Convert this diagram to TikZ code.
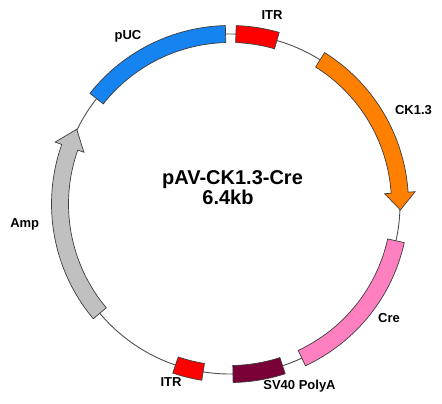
\documentclass[tikz,border=0pt]{standalone}
\usepackage{fontspec}
\setmainfont{Liberation Sans}
\definecolor{pucblue}{RGB}{21,132,240}
\definecolor{itrred}{RGB}{255,0,0}
\definecolor{ckorange}{RGB}{255,128,0}
\definecolor{crepink}{RGB}{255,128,192}
\definecolor{svmaroon}{RGB}{122,0,56}
\definecolor{ampgray}{RGB}{192,192,192}
\definecolor{ringline}{RGB}{80,80,80}
\definecolor{edgeline}{RGB}{60,60,60}
\tikzset{
  bandstyle/.style={draw=edgeline, line width=0.7pt, line join=miter},
  ringstyle/.style={draw=ringline, line width=0.9pt},
  labelstyle/.style={font=\fontsize{13}{15}\selectfont\bfseries, anchor=base, inner sep=0pt},
  titlestyle/.style={font=\fontsize{20}{24}\selectfont\bfseries, anchor=base, inner sep=0pt}
}
\newcommand{\plasband}[3]{%
  \path[bandstyle, fill=#3] (#1:178.5) arc[start angle=#1, end angle=#2, radius=178.5]
    -- (#2:161.5) arc[start angle=#2, end angle=#1, radius=161.5] -- cycle;}
% start, head base, tip, colour
\newcommand{\plasarrow}[4]{%
  \path[bandstyle, fill=#4] (#1:178.5) arc[start angle=#1, end angle=#2, radius=178.5]
    -- (#2:185.5) -- (#3:170.5) -- (#2:155) -- (#2:161.5)
    arc[start angle=#2, end angle=#1, radius=161.5] -- cycle;}
\begin{document}
\begin{tikzpicture}[x=1pt,y=1pt]
\useasboundingbox (0,0) rectangle (442,404);
\fill[white] (0,0) rectangle (442,404);
\coordinate (ctr) at (230,200);
\draw[ringstyle] (ctr) circle[radius=170];
\begin{scope}[shift={(ctr)}]
  \plasband{91.5}{141.7}{pucblue}
  \plasband{74}{88}{itrred}
  \plasarrow{58}{3.8}{-2}{ckorange}
  \plasband{-12.5}{-65}{crepink}
  \plasband{-72}{-89}{svmaroon}
  \plasband{-99.1}{-108.7}{itrred}
  \plasarrow{220}{160.5}{154}{ampgray}
\end{scope}
\node[labelstyle] (lpuc) at (128,364) {pUC};
\node[labelstyle] (litrtop) at (272,384) {ITR};
\node[labelstyle] (lck) at (413.5,289) {CK1.3};
\node[labelstyle] (lcre) at (389,81) {Cre};
\node[labelstyle] (lsv) at (299.5,14) {SV40 PolyA};
\node[labelstyle] (litrbot) at (171,17.3) {ITR};
\node[labelstyle] (lamp) at (24.7,176) {Amp};
\node[titlestyle] (title) at (232.5,219) {pAV-CK1.3-Cre};
\node[titlestyle] (size) at (228,199) {6.4kb};
\end{tikzpicture}
\end{document}
